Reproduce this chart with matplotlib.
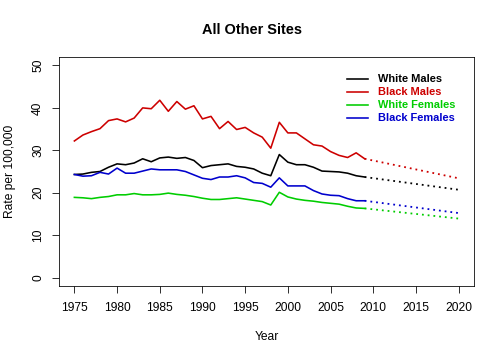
import matplotlib
matplotlib.use("Agg")
import matplotlib.pyplot as plt

plt.rcParams['font.family'] = ['Liberation Sans', 'DejaVu Sans']

years = list(range(1975, 2010))
white_males = [24.3, 24.4, 24.8, 25.0, 26.0, 26.8, 26.6, 27.0, 28.0, 27.3,
               28.2, 28.4, 28.1, 28.3, 27.6, 25.9, 26.4, 26.6, 26.8, 26.2,
               26.0, 25.6, 24.6, 24.0, 29.0, 27.2, 26.6, 26.6, 26.0, 25.1,
               25.0, 24.9, 24.6, 24.0, 23.7]
black_males = [32.2, 33.6, 34.4, 35.1, 37.0, 37.4, 36.7, 37.6, 40.0, 39.8,
               41.8, 39.2, 41.5, 39.7, 40.5, 37.4, 38.0, 35.1, 36.8, 34.9,
               35.4, 34.1, 33.1, 30.5, 36.6, 34.1, 34.1, 32.7, 31.3, 31.0,
               29.7, 28.8, 28.3, 29.4, 28.0]
white_females = [18.9, 18.8, 18.6, 18.9, 19.1, 19.5, 19.5, 19.8, 19.5, 19.5,
                 19.6, 19.9, 19.6, 19.4, 19.1, 18.7, 18.4, 18.4, 18.6, 18.8,
                 18.5, 18.2, 17.9, 17.1, 20.1, 19.0, 18.5, 18.2, 18.0, 17.7,
                 17.5, 17.3, 16.8, 16.4, 16.3]
black_females = [24.3, 23.9, 24.0, 24.8, 24.4, 25.8, 24.6, 24.6, 25.1, 25.6,
                 25.4, 25.4, 25.4, 25.0, 24.2, 23.4, 23.1, 23.7, 23.7, 24.0,
                 23.5, 22.4, 22.2, 21.3, 23.5, 21.6, 21.6, 21.6, 20.5, 19.7,
                 19.4, 19.3, 18.6, 18.1, 18.1]

proj_years = [2009, 2020]
proj_white_males = [23.7, 20.7]
proj_black_males = [28.0, 23.4]
proj_white_females = [16.3, 13.9]
proj_black_females = [18.1, 15.2]

labels = ["White Males", "Black Males", "White Females", "Black Females"]
colors = ["#000000", "#CD0000", "#00CD00", "#0000CD"]
series = [white_males, black_males, white_females, black_females]
projs = [proj_white_males, proj_black_males, proj_white_females, proj_black_females]

xticks = list(range(1975, 2021, 5))
yticks = [0, 10, 20, 30, 40, 50]

fig = plt.figure(figsize=(7, 5), dpi=72)
ax = fig.add_axes([59/504, 1 - 286/360, (474-59)/504, (286-57)/360])

for s, p, c in zip(series, projs, colors):
    ax.plot(years, s, color=c, lw=1.6)
    ax.plot(proj_years, p, color=c, lw=1.8, linestyle=(0, (1, 2.2)))

ax.set_xlim(1973.2, 2021.8)
ax.set_ylim(-2, 52)
ax.set_xticks(xticks)
ax.set_yticks(yticks)
ax.set_xticklabels([str(x) for x in xticks], fontsize=12)
ax.set_yticklabels([str(y) for y in yticks], fontsize=12, rotation=90, va='center')
ax.tick_params(axis='x', direction='out', length=7, width=0.8, pad=9)
ax.tick_params(axis='y', direction='out', length=7, width=0.8, pad=8)
for sp in ax.spines.values():
    sp.set_linewidth(0.8)

ax.set_xlabel("Year", fontsize=12)
ax.set_ylabel("Rate per 100,000", fontsize=12)
ax.xaxis.set_label_coords(0.5, (286 - 337) / 229)
ax.yaxis.set_label_coords((10.5 - 59) / 415, 0.5)
for lbl in (ax.xaxis.label, ax.yaxis.label):
    lbl.set_va('center')
fig.text(0.5, 1 - 30/360, "All Other Sites", ha='center', va='center',
         fontsize=14.5, fontweight='bold')

# legend (no frame)
leg_y = [79, 92, 105, 118]
for lab, c, yy in zip(labels, colors, leg_y):
    yf = 1 - yy/360
    fig.add_artist(plt.Line2D([347/504, 368/504], [yf, yf], color=c, lw=1.6))
    fig.text(378/504, yf, lab, color=c, fontsize=11, fontweight='bold',
             va='center', ha='left')

fig.savefig("out.png", dpi=72)
